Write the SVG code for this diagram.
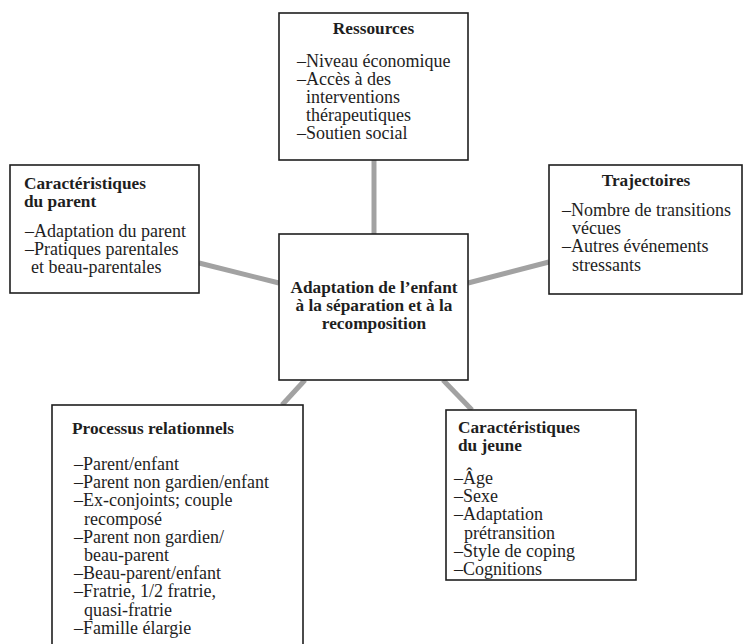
<svg xmlns="http://www.w3.org/2000/svg" width="744" height="644" viewBox="0 0 744 644">
<style>
.box{fill:#fff;stroke:#1e1e1e;stroke-width:1.6}
.conn{stroke:#a2a2a2;stroke-width:5;fill:none}
text{font-family:"Liberation Serif","Times New Roman",serif;font-size:18px;fill:#1e1e1e}
.b{font-weight:bold;font-size:17.3px}
.c{text-anchor:middle}
</style>
<rect width="744" height="644" fill="#fff"/>
<g id="connectors">
<line class="conn" x1="374" y1="160" x2="374" y2="234"/>
<line class="conn" x1="199" y1="263" x2="279" y2="283"/>
<line class="conn" x1="468" y1="283" x2="549" y2="262"/>
<line class="conn" x1="305" y1="380" x2="282" y2="405"/>
<line class="conn" x1="443" y1="380" x2="472" y2="410"/>
</g>
<g id="ressources">
<rect class="box" x="279" y="13" width="189" height="147"/>
<text class="b c" x="373.5" y="34">Ressources</text>
<text x="297" y="66.5">–Niveau économique</text>
<text x="297" y="84.7">–Accès à des</text>
<text x="306" y="102.9">interventions</text>
<text x="306" y="121.1">thérapeutiques</text>
<text x="297" y="139.3">–Soutien social</text>
</g>
<g id="parent">
<rect class="box" x="10" y="165" width="189" height="128"/>
<text class="b" x="24" y="189">Caractéristiques</text>
<text class="b" x="24" y="207.3">du parent</text>
<text x="25" y="237">–Adaptation du parent</text>
<text x="25" y="255.2">–Pratiques parentales</text>
<text x="31" y="273.4">et beau-parentales</text>
</g>
<g id="trajectoires">
<rect class="box" x="549" y="165" width="193" height="129"/>
<text class="b c" x="646" y="186">Trajectoires</text>
<text x="562" y="216">–Nombre de transitions</text>
<text x="572" y="234.2">vécues</text>
<text x="562" y="252.4">–Autres événements</text>
<text x="572" y="270.6">stressants</text>
</g>
<g id="centre">
<rect class="box" x="279" y="234" width="189" height="146"/>
<text class="b c" x="374" y="292.5">Adaptation de l’enfant</text>
<text class="b c" x="374" y="310.8">à la séparation et à la</text>
<text class="b c" x="374" y="329.1">recomposition</text>
</g>
<g id="processus">
<rect class="box" x="52" y="405" width="251" height="245"/>
<text class="b" x="72" y="434">Processus relationnels</text>
<text x="74" y="470">–Parent/enfant</text>
<text x="74" y="488.2">–Parent non gardien/enfant</text>
<text x="74" y="506.4">–Ex-conjoints; couple</text>
<text x="84" y="524.6">recomposé</text>
<text x="74" y="542.8">–Parent non gardien/</text>
<text x="84" y="561">beau-parent</text>
<text x="74" y="579.2">–Beau-parent/enfant</text>
<text x="74" y="597.4">–Fratrie, 1/2 fratrie,</text>
<text x="84" y="615.6">quasi-fratrie</text>
<text x="74" y="633.8">–Famille élargie</text>
</g>
<g id="jeune">
<rect class="box" x="446" y="410" width="190" height="170"/>
<text class="b" x="458" y="432.7">Caractéristiques</text>
<text class="b" x="458" y="451">du jeune</text>
<text x="454" y="484">–Âge</text>
<text x="454" y="502.2">–Sexe</text>
<text x="454" y="520.4">–Adaptation</text>
<text x="464" y="538.6">prétransition</text>
<text x="454" y="556.8">–Style de coping</text>
<text x="454" y="575">–Cognitions</text>
</g>
</svg>
